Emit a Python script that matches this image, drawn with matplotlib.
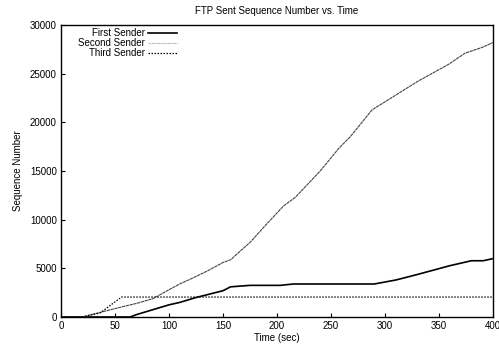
import matplotlib
matplotlib.use("Agg")
import matplotlib.pyplot as plt
from matplotlib.lines import Line2D

plt.rcParams['font.family'] = ['Liberation Sans', 'DejaVu Sans']

# Data
t_first = [0, 64, 70, 85, 100, 110, 125, 150, 157, 175, 203, 215, 290, 310, 329, 360, 380, 391, 400]
v_first = [0, 0, 250, 750, 1250, 1500, 2000, 2700, 3100, 3250, 3250, 3390, 3390, 3800, 4340, 5270, 5780, 5780, 6000]

t_second = [0, 20, 30, 56, 70, 85, 100, 110, 120, 135, 150, 157, 175, 190, 206, 217, 240, 257, 268, 288, 310, 330, 359, 374, 390, 400]
v_second = [0, 0, 300, 1030, 1400, 1880, 2800, 3400, 3900, 4700, 5600, 5880, 7660, 9500, 11400, 12300, 15000, 17300, 18540, 21280, 22800, 24190, 25970, 27100, 27700, 28200]

t_third = [0, 19, 36, 56, 400]
v_third = [0, 0, 400, 2050, 2050]

labels = ["First Sender", "Second Sender", "Third Sender"]
xticks = [0, 50, 100, 150, 200, 250, 300, 350, 400]
yticks = [0, 5000, 10000, 15000, 20000, 25000, 30000]

fig = plt.figure(figsize=(4.99, 3.49), dpi=100)
ax = fig.add_axes([61/499, (349-317)/349, 432/499, 292/349])

fs = 7
s1 = dict(color='black', lw=1.2, ls='-')
s2 = dict(color='#444444', lw=0.8, ls=(0, (3, 0.5)))
s3 = dict(color='black', lw=0.9, ls=(0, (1.2, 1.2)))

ax.plot(t_first, v_first, **s1)
ax.plot(t_second, v_second, **s2)
ax.plot(t_third, v_third, **s3)

ax.set_xlim(0, 400)
ax.set_ylim(0, 30000)
ax.set_xticks(xticks)
ax.set_yticks(yticks)
ax.tick_params(direction='in', length=3, width=0.8, labelsize=fs, pad=3, colors='black')
for sp in ax.spines.values():
    sp.set_linewidth(1.0)

ax.set_title("FTP Sent Sequence Number vs. Time", fontsize=fs, pad=8)
ax.set_xlabel("Time (sec)", fontsize=fs, labelpad=1)
ax.set_ylabel("Sequence Number", fontsize=fs, labelpad=5)

# gnuplot-style legend: right-aligned text, sample to the right
styles = [s1, dict(color='#aaaaaa', lw=0.8, ls=(0, (1, 0.6))), s3]
ys = [32.7, 42.7, 52.7]
for lab, st, ypix in zip(labels, styles, ys):
    yf = 1 - ypix / 349
    fig.text(145/499, yf, lab, ha='right', va='center', fontsize=fs)
    fig.add_artist(Line2D([148/499, 177/499], [yf, yf], transform=fig.transFigure, **st))

fig.savefig("out.png", dpi=100)
